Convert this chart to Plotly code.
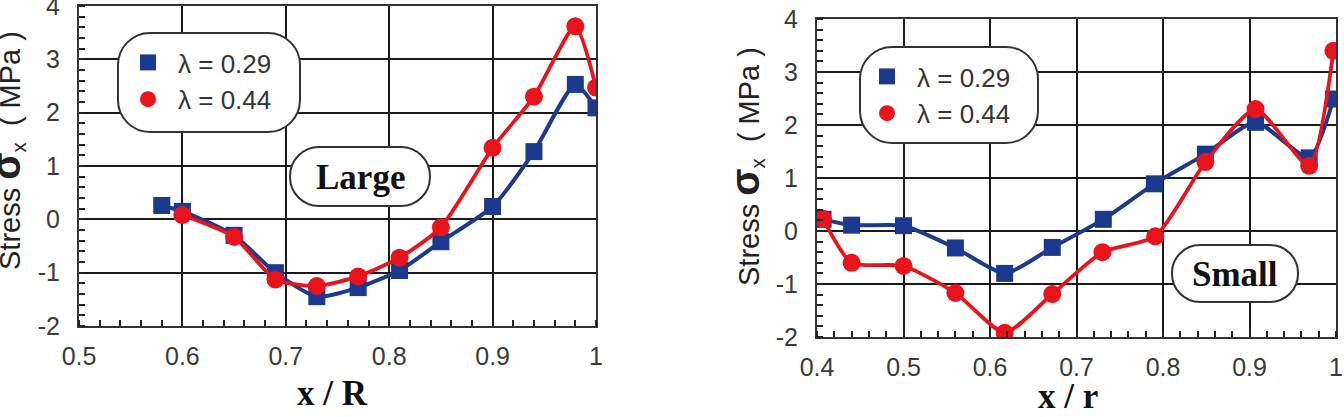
import plotly.graph_objects as go

# ---------------- data ----------------
L_x_029 = [0.58, 0.60, 0.65, 0.69, 0.73, 0.77, 0.81, 0.85, 0.90, 0.94, 0.98, 1.00]
L_y_029 = [0.26, 0.15, -0.30, -1.00, -1.45, -1.28, -0.96, -0.42, 0.24, 1.27, 2.53, 2.09]
L_x_044 = [0.60, 0.65, 0.69, 0.73, 0.77, 0.81, 0.85, 0.90, 0.94, 0.98, 1.00]
L_y_044 = [0.08, -0.33, -1.13, -1.25, -1.07, -0.72, -0.15, 1.34, 2.30, 3.62, 2.47]

S_x_029 = [0.407, 0.44, 0.50, 0.56, 0.617, 0.672, 0.731, 0.79, 0.849, 0.907, 0.969, 0.997]
S_y_029 = [0.22, 0.11, 0.10, -0.32, -0.80, -0.31, 0.22, 0.89, 1.45, 2.05, 1.38, 2.49]
S_x_044 = [0.407, 0.44, 0.50, 0.56, 0.617, 0.672, 0.73, 0.791, 0.849, 0.907, 0.969, 0.997]
S_y_044 = [0.23, -0.60, -0.66, -1.17, -1.92, -1.19, -0.40, -0.10, 1.30, 2.30, 1.23, 3.40]

names = ["λ = 0.29", "λ = 0.44"]
L_xticks = [0.5, 0.6, 0.7, 0.8, 0.9, 1.0]
L_xtext = ["0.5", "0.6", "0.7", "0.8", "0.9", "1"]
S_xticks = [0.4, 0.5, 0.6, 0.7, 0.8, 0.9, 1.0]
S_xtext = ["0.4", "0.5", "0.6", "0.7", "0.8", "0.9", "1"]
yticks = [-2, -1, 0, 1, 2, 3, 4]
ytext = ["-2", "-1", "0", "1", "2", "3", "4"]

BLUE = "#1b3a8e"
RED = "#e8131b"
W, H = 1344, 417

# pixel frames of the two plot areas
LP = dict(x0=79, x1=596, y0=6, y1=326, xr=(0.5, 1.0))
RP = dict(x0=817, x1=1336, y0=19, y1=337, xr=(0.4, 1.0))


def px2d(p, px, py):
    xd = p["xr"][0] + (px - p["x0"]) / (p["x1"] - p["x0"]) * (p["xr"][1] - p["xr"][0])
    yd = 4 - (py - p["y0"]) / (p["y1"] - p["y0"]) * 6
    return xd, yd


def rounded(p, x0, y0, x1, y1, r):
    # pixel box -> data path with cubic-bezier corners
    k = 0.5523

    def P(x, y):
        a, b = px2d(p, x, y)
        return f"{a:.5f},{b:.5f}"
    s = f"M {P(x0 + r, y0)} L {P(x1 - r, y0)} "
    s += f"C {P(x1 - r + k * r, y0)} {P(x1, y0 + r - k * r)} {P(x1, y0 + r)} "
    s += f"L {P(x1, y1 - r)} "
    s += f"C {P(x1, y1 - r + k * r)} {P(x1 - r + k * r, y1)} {P(x1 - r, y1)} "
    s += f"L {P(x0 + r, y1)} "
    s += f"C {P(x0 + r - k * r, y1)} {P(x0, y1 - r + k * r)} {P(x0, y1 - r)} "
    s += f"L {P(x0, y0 + r)} "
    s += f"C {P(x0, y0 + r - k * r)} {P(x0 + r - k * r, y0)} {P(x0 + r, y0)} Z"
    return s


fig = go.Figure()

def add_series(x, y, name, color, symbol, xa, ya, legend, size, lw):
    fig.add_trace(go.Scatter(
        x=x, y=y, name=name, mode="lines+markers", xaxis=xa, yaxis=ya, legend=legend,
        legendgroup=legend + name, showlegend=False,
        line=dict(color=color, width=lw, shape="spline", smoothing=0.6),
        marker=dict(color=color, symbol=symbol, size=size),
    ))
    # legend entry shows the marker only, as in the reference
    fig.add_trace(go.Scatter(
        x=[None], y=[None], name=name, mode="markers", xaxis=xa, yaxis=ya, legend=legend,
        legendgroup=legend + name, showlegend=True,
        marker=dict(color=color, symbol=symbol, size=size),
    ))

add_series(L_x_029, L_y_029, names[0], BLUE, "square", "x", "y", "legend", 17, 4)
add_series(L_x_044, L_y_044, names[1], RED, "circle", "x", "y", "legend", 18, 3.8)
add_series(S_x_029, S_y_029, names[0], BLUE, "square", "x2", "y2", "legend2", 17, 4)
add_series(S_x_044, S_y_044, names[1], RED, "circle", "x2", "y2", "legend2", 18, 3.8)

tickfont = dict(family="Liberation Sans, Arial", size=25, color="#3a3a3a")

def xaxis(p, ticks, text, anchor):
    return dict(
        domain=[p["x0"] / W, p["x1"] / W], range=list(p["xr"]), tickvals=ticks, ticktext=text,
        showgrid=True, gridcolor="#1a1a1a", gridwidth=2, zeroline=False, automargin=False,
        showline=True, linecolor="#333", linewidth=2, mirror=True, ticks="", anchor=anchor,
        tickfont=tickfont, ticklabelstandoff=7, ticklabeloverflow="allow",
        minor=dict(dtick=0.02, tick0=0, ticks="inside", ticklen=6, tickwidth=2,
                   tickcolor="#222", showgrid=False),
    )

def yaxis(p, anchor):
    return dict(
        domain=[1 - p["y1"] / H, 1 - p["y0"] / H], range=[-2, 4], tickvals=yticks, ticktext=ytext,
        showgrid=True, gridcolor="#1a1a1a", gridwidth=2, zeroline=False, automargin=False,
        showline=True, linecolor="#333", linewidth=2, mirror=True, ticks="",
        tickfont=tickfont, ticklabelstandoff=12, anchor=anchor, ticklabeloverflow="allow",
        minor=dict(dtick=0.2, tick0=0, ticks="inside", ticklen=6, tickwidth=2,
                   tickcolor="#222", showgrid=False),
    )

shapes = [
    dict(type="path", xref="x", yref="y", layer="between", path=rounded(LP, 118, 33, 300, 132, 32),
         fillcolor="white", line=dict(color="#333", width=2)),
    dict(type="path", xref="x", yref="y", layer="between", path=rounded(LP, 290, 147, 430, 206, 29),
         fillcolor="white", line=dict(color="#333", width=2)),
    dict(type="path", xref="x2", yref="y2", layer="between", path=rounded(RP, 860, 47, 1038, 143, 32),
         fillcolor="white", line=dict(color="#333", width=2)),
    dict(type="path", xref="x2", yref="y2", layer="between", path=rounded(RP, 1172, 245, 1298, 302, 28),
         fillcolor="white", line=dict(color="#333", width=2)),
]

serif = dict(family="Liberation Serif, Times New Roman", size=35, color="#111")
ytitle = ("Stress <span style='font-size:40px'><b>σ</b></span><sub>x</sub>"
          "  ( MPa )")
C = dict(xref="paper", yref="paper", showarrow=False, xanchor="center", yanchor="middle")
xtfont = dict(family="Liberation Serif, Times New Roman", size=35, color="#111")
annotations = [
    dict(text="<b>Large</b>", x=(290 + 430) / 2 / W, y=1 - 177 / H, font=serif, **C),
    dict(text="<b>Small</b>", x=(1172 + 1298) / 2 / W, y=1 - 274 / H, font=serif, **C),
    dict(text="<b>x / R</b>", x=332 / W, y=1 - 393 / H, font=xtfont, **C),
    dict(text="<b>x / r</b>", x=1068 / W, y=1 - 396 / H, font=xtfont, **C),
    dict(text=ytitle, textangle=-90, x=7 / W, y=1 - 151 / H,
         font=dict(family="Liberation Sans, Arial", size=29, color="#222"), **C),
    dict(text=ytitle, textangle=-90, x=746 / W, y=1 - 167 / H,
         font=dict(family="Liberation Sans, Arial", size=29, color="#222"), **C),
]

legfont = dict(family="Liberation Sans, Arial", size=26, color="#333")
fig.update_layout(
    width=W, height=H, margin=dict(l=0, r=0, t=0, b=0, autoexpand=False), autosize=False,
    paper_bgcolor="white", plot_bgcolor="white", showlegend=True,
    xaxis=xaxis(LP, L_xticks, L_xtext, "y"), yaxis=yaxis(LP, "x"),
    xaxis2=xaxis(RP, S_xticks, S_xtext, "y2"), yaxis2=yaxis(RP, "x2"),
    shapes=shapes, annotations=annotations,
    legend=dict(x=118 / W, y=1 - 39 / H, xanchor="left", yanchor="top", bgcolor="rgba(0,0,0,0)",
                borderwidth=0, font=legfont, itemwidth=50, tracegroupgap=0),
    legend2=dict(x=857 / W, y=1 - 53 / H, xanchor="left", yanchor="top", bgcolor="rgba(0,0,0,0)",
                 borderwidth=0, font=legfont, itemwidth=50, tracegroupgap=0),
)

fig.write_html("out.html")
